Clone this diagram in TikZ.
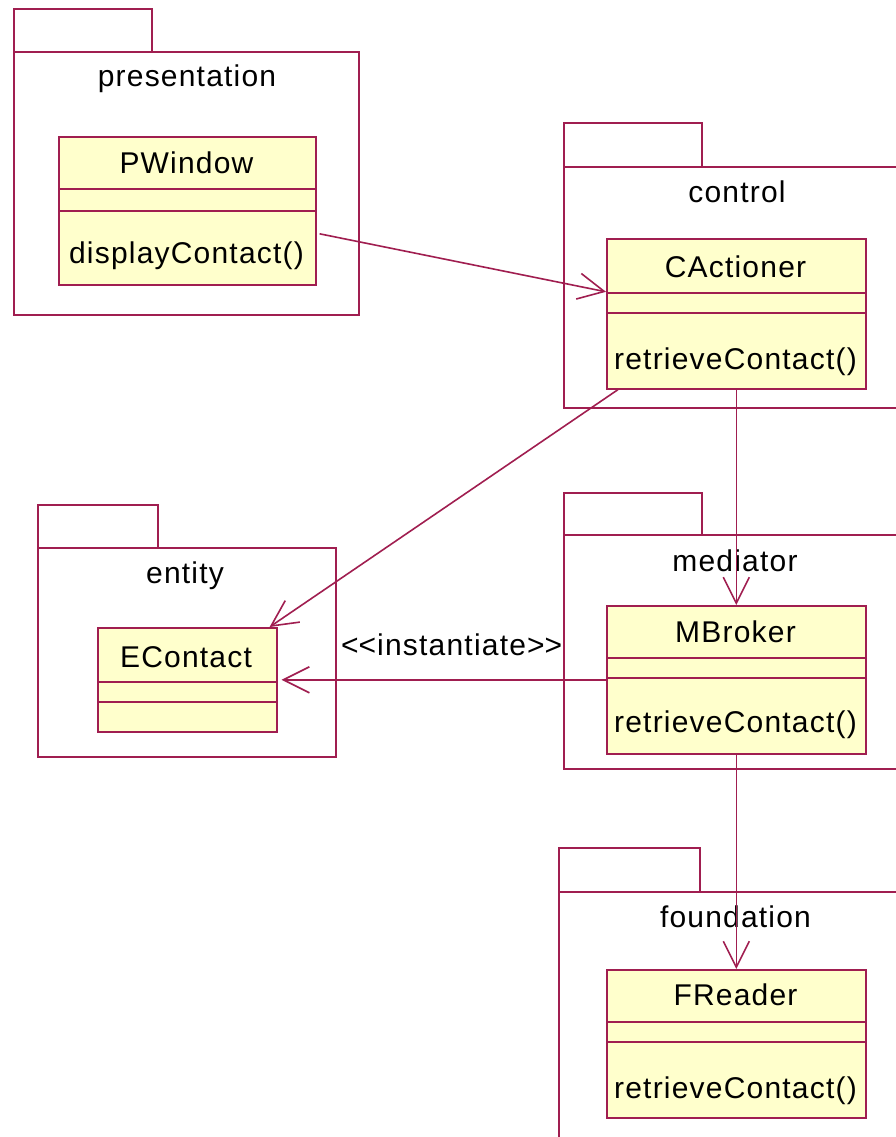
\documentclass[tikz,border=0pt]{standalone}
\usepackage{fontspec}
\setmainfont{Liberation Sans}[LetterSpace=4]
\usetikzlibrary{arrows.meta}
\definecolor{umlline}{RGB}{160,30,80}
\definecolor{umlfill}{RGB}{255,255,204}

\begin{document}
\begin{tikzpicture}[x=1pt, y=-1pt, line width=1.6pt,
    pkg/.style={draw=umlline, fill=white},
    classbox/.style={draw=umlline, fill=umlfill, anchor=north west, inner sep=0pt},
    txt/.style={font=\fontsize{30}{36}\selectfont, anchor=base, inner sep=0pt},
    dep/.style={draw=umlline, -{Straight Barb[length=26pt, width=26pt, line width=1.6pt]}}]
    \useasboundingbox (0,0) rectangle (895,1137);

    % Package: presentation
    \draw[pkg] (14,9) rectangle (152,52);
    \draw[pkg] (14,52) rectangle (359,315);
    \node[txt] (presLabel) at (187,87) {presentation};

    % Package: control
    \draw[pkg] (564,123) rectangle (702,167);
    \draw[pkg] (564,167) rectangle (910,408);
    \node[txt] (ctrlLabel) at (737,202) {control};

    % Package: entity
    \draw[pkg] (38,505) rectangle (158,548);
    \draw[pkg] (38,548) rectangle (336,757);
    \node[txt] (entLabel) at (185,583) {entity};

    % Package: mediator
    \draw[pkg] (564,493) rectangle (702,535);
    \draw[pkg] (564,535) rectangle (910,769);
    \node[txt] (medLabel) at (735,571) {mediator};

    % Package: foundation
    \draw[pkg] (559,848) rectangle (700,892);
    \draw[pkg] (559,892) rectangle (910,1160);
    \node[txt] (fndLabel) at (735.5,927) {foundation};

    % Class PWindow
    \node[classbox, minimum width=257pt, minimum height=148pt] (PWindow) at (58,136) {};
    \draw[umlline] (58,189) -- (315,189);
    \draw[umlline] (58,211) -- (315,211);
    \node[txt] (PWindowName) at (186.5,173) {PWindow};
    \node[txt] (PWindowOp) at (186.5,263) {displayContact()};

    % Class CActioner
    \node[classbox, minimum width=259pt, minimum height=150pt] (CActioner) at (606,238) {};
    \draw[umlline] (606,293) -- (865,293);
    \draw[umlline] (606,313) -- (865,313);
    \node[txt] (CActionerName) at (735.5,277) {CActioner};
    \node[txt] (CActionerOp) at (735.5,369) {retrieveContact()};

    % Class EContact
    \node[classbox, minimum width=179pt, minimum height=104pt] (EContact) at (97,627) {};
    \draw[umlline] (97,682) -- (276,682);
    \draw[umlline] (97,702) -- (276,702);
    \node[txt] (EContactName) at (186,667) {EContact};

    % Class MBroker
    \node[classbox, minimum width=259pt, minimum height=148pt] (MBroker) at (606,605) {};
    \draw[umlline] (606,658) -- (865,658);
    \draw[umlline] (606,678) -- (865,678);
    \node[txt] (MBrokerName) at (735.5,642) {MBroker};
    \node[txt] (MBrokerOp) at (735.5,732) {retrieveContact()};

    % Class FReader
    \node[classbox, minimum width=259pt, minimum height=148pt] (FReader) at (606,969) {};
    \draw[umlline] (606,1022) -- (865,1022);
    \draw[umlline] (606,1042) -- (865,1042);
    \node[txt] (FReaderName) at (735.5,1005) {FReader};
    \node[txt] (FReaderOp) at (735.5,1098) {retrieveContact()};

    % Dependencies
    \draw[dep] ([xshift=3pt, yshift=-23pt]PWindow.east) -- ([yshift=22pt]CActioner.west);
    \draw[dep] ([xshift=12pt]CActioner.south west) -- ([xshift=-8pt]EContact.north east);
    \draw[dep] (CActioner.south) -- (MBroker.north);
    \draw[dep, shorten >=4pt] (MBroker.west) -- (EContact.east)
        node[txt, pos=0.47, yshift=24pt] {<\kern0pt<instantiate>\kern0pt>};
    \draw[dep] (MBroker.south) -- (FReader.north);
\end{tikzpicture}
\end{document}
